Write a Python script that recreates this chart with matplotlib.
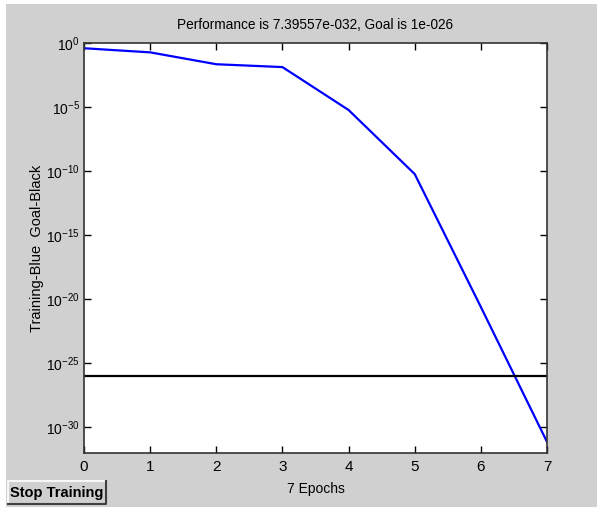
import numpy as np
import matplotlib
matplotlib.use("Agg")
import matplotlib.pyplot as plt
from matplotlib.patches import Rectangle
from matplotlib.ticker import FixedLocator, LogFormatterSciNotation

# training record
epochs = [0, 1, 2, 3, 4, 5, 6, 7]
perf = [0.39, 0.186, 0.022, 0.0132, 5.9e-6, 5.9e-11, 2.5e-21, 7.39557e-32]
goal = 1e-26
y_ticks = [1e-30, 1e-25, 1e-20, 1e-15, 1e-10, 1e-5, 1e0]
x_ticks = [0, 1, 2, 3, 4, 5, 6, 7]
title = "Performance is 7.39557e-032, Goal is 1e-026"

plt.rcParams['font.family'] = ['Liberation Sans', 'DejaVu Sans']
plt.rcParams['mathtext.fontset'] = 'custom'
plt.rcParams['mathtext.rm'] = 'Liberation Sans'
plt.rcParams['mathtext.it'] = 'Liberation Sans'
plt.rcParams['axes.unicode_minus'] = False

W, H = 597, 507
fig = plt.figure(figsize=(W / 100, H / 100), dpi=100, facecolor='white')

# grey window background, small white margin at top and left
fig.patches.append(Rectangle((6 / W, 0), 1 - 6 / W, 1 - 4 / H, transform=fig.transFigure,
                             facecolor='#d0d0d0', edgecolor='none', zorder=-10))

ax = fig.add_axes([84 / W, 1 - 453 / H, (547 - 84) / W, (453 - 43) / H])
ax.set_facecolor('white')

ax.semilogy(epochs, perf, color='#0000ff', lw=1.6, solid_joinstyle='round')
ax.axhline(goal, color='black', lw=1.6)

ax.set_xlim(0, 7)
ax.set_ylim(1e-32, 1e0)
ax.xaxis.set_major_locator(FixedLocator(x_ticks))
ax.yaxis.set_major_locator(FixedLocator(y_ticks))
ax.yaxis.set_major_formatter(LogFormatterSciNotation())
ax.yaxis.set_minor_locator(FixedLocator([]))
ax.tick_params(axis='both', which='major', direction='in', length=5, width=1,
               top=True, right=True, pad=4, colors='black')
ax.tick_params(axis='x', labelsize=11, pad=5)
ax.tick_params(axis='y', labelsize=10, pad=3)
for s in ax.spines.values():
    s.set_linewidth(1.2)
    s.set_color('#333333')

ax.set_title(title, fontsize=9.8, pad=10)
ax.set_xlabel("7 Epochs", fontsize=10, labelpad=6)
ax.set_ylabel("Training-Blue  Goal-Black", fontsize=10.5)
ax.yaxis.set_label_coords((44 - 84) / (547 - 84), 0.5)

# "Stop Training" button
bx, by, bw, bh = 8, 481, 98, 23
fig.patches.append(Rectangle((bx / W, 1 - (by + bh) / H), bw / W, bh / H, transform=fig.transFigure,
                             facecolor='#d0d0d0', edgecolor='none', zorder=1))
fig.lines.append(plt.Line2D([bx / W, bx / W, (bx + bw) / W], [1 - (by + bh) / H, 1 - by / H, 1 - by / H],
                            transform=fig.transFigure, color='white', lw=1.2))
fig.lines.append(plt.Line2D([bx / W, (bx + bw) / W, (bx + bw) / W], [1 - (by + bh) / H, 1 - (by + bh) / H, 1 - by / H],
                            transform=fig.transFigure, color='#404040', lw=1.5))
fig.text((bx + bw / 2) / W, 1 - (by + bh / 2) / H, "Stop Training", ha='center', va='center',
         fontsize=10.5, fontweight='bold', color='black')

fig.savefig("out.png", dpi=100, facecolor=fig.get_facecolor())
